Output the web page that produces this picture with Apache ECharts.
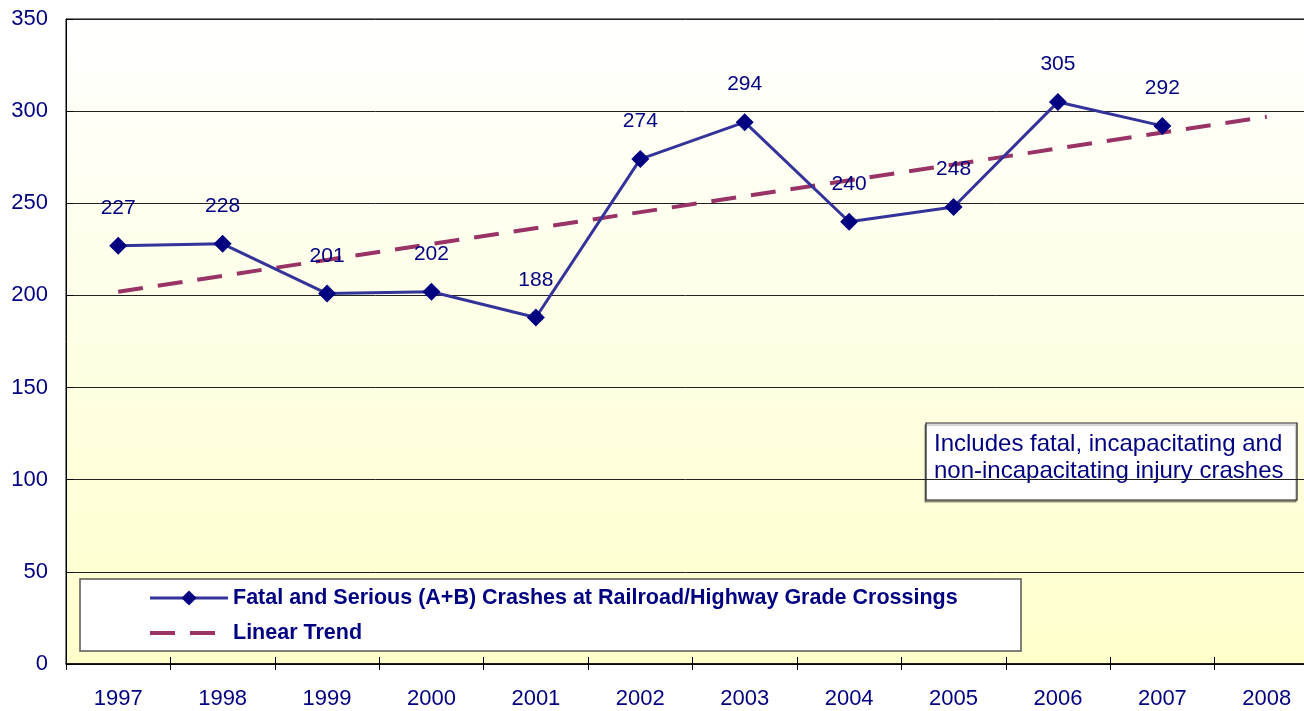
<!DOCTYPE html>
<html>
<head>
<meta charset="utf-8">
<title>Fatal and Serious Crashes at Railroad/Highway Grade Crossings</title>
<script src="https://cdn.jsdelivr.net/npm/echarts@6/dist/echarts.min.js"></script>
<style>
  html, body { margin: 0; padding: 0; background: #fff; }
  #chart { width: 1304px; height: 711px; }
</style>
</head>
<body>
<div id="chart"></div>
<script>
// Years on the category axis
const years = ['1997', '1998', '1999', '2000', '2001', '2002', '2003', '2004', '2005', '2006', '2007', '2008'];
// Fatal and serious (A+B) crashes per year (no value yet for 2008)
const crashes = [227, 228, 201, 202, 188, 274, 294, 240, 248, 305, 292, null];
// Linear trend end points (1997 and 2008)
const trend = [202, null, null, null, null, null, null, null, null, null, null, 297];
// Value axis ticks
const yTicks = [0, 50, 100, 150, 200, 250, 300, 350];

const navy = '#000080';
const font = 'Arial, "Liberation Sans", sans-serif';
const seriesName = 'Fatal and Serious (A+B) Crashes at Railroad/Highway Grade Crossings';

const chart = echarts.init(document.getElementById('chart'), null, { renderer: 'canvas' });

chart.setOption({
  animation: false,
  backgroundColor: '#ffffff',
  grid: {
    left: 66,
    top: 19,
    width: 1253,
    bottom: 47,
    outerBoundsMode: 'none',
    containLabel: false,
    show: true,
    borderColor: '#000',
    borderWidth: 1,
    backgroundColor: new echarts.graphic.LinearGradient(0, 0, 0, 1, [
      { offset: 0, color: '#ffffff' },
      { offset: 1, color: '#ffffcc' }
    ])
  },
  xAxis: [{
    type: 'category',
    data: years,
    boundaryGap: true,
    axisLine: { lineStyle: { color: '#000', width: 1.5 } },
    axisTick: { show: true, length: 6, lineStyle: { color: '#000' } },
    axisLabel: { color: navy, fontFamily: font, fontSize: 22, margin: 24 }
  }, {
    type: 'category',
    data: years,
    boundaryGap: true,
    position: 'bottom',
    axisLine: { show: false },
    axisTick: { show: true, inside: true, length: 7, lineStyle: { color: '#000' } },
    axisLabel: { show: false }
  }],
  yAxis: {
    type: 'value',
    min: yTicks[0],
    max: yTicks[yTicks.length - 1],
    interval: 50,
    axisLine: { show: true, lineStyle: { color: '#000' } },
    axisTick: { show: true, inside: true, length: 7, lineStyle: { color: '#000' } },
    splitLine: { show: true, lineStyle: { color: '#222', width: 1 } },
    axisLabel: { color: navy, fontFamily: font, fontSize: 22, margin: 18 }
  },
  legend: {
    orient: 'vertical',
    left: 148,
    top: 586,
    padding: 0,
    itemWidth: 78,
    itemHeight: 19,
    itemGap: 11,
    textStyle: { color: navy, fontFamily: font, fontSize: 21.5, fontWeight: 'bold', lineHeight: 24 },
    data: [
      { name: seriesName, lineStyle: { width: 3 } },
      { name: 'Linear Trend', lineStyle: { width: 4 }, itemStyle: { opacity: 0 } }
    ]
  },
  series: [{
    name: 'Linear Trend',
    type: 'line',
    data: trend,
    connectNulls: true,
    symbol: 'none',
    z: 2,
    lineStyle: { color: '#993366', width: 4, type: [25, 15] },
    itemStyle: { color: '#993366' }
  }, {
    name: seriesName,
    type: 'line',
    data: crashes,
    symbol: 'diamond',
    symbolSize: 18,
    z: 3,
    lineStyle: { color: '#333399', width: 3 },
    itemStyle: { color: navy },
    label: {
      show: true,
      position: 'top',
      distance: 18,
      color: navy,
      fontFamily: font,
      fontSize: 21
    }
  }],
  graphic: [{
    type: 'rect',
    z: 0,
    shape: { x: 80, y: 579, width: 941, height: 72 },
    style: { fill: '#ffffff', stroke: '#555', lineWidth: 1.5 }
  }, {
    type: 'group',
    z: 10,
    children: [{
      type: 'rect',
      shape: { x: 926, y: 423, width: 371, height: 77 },
      style: { fill: '#ffffff', stroke: '#222', lineWidth: 1.2, shadowColor: 'rgba(0,0,0,0.35)', shadowOffsetX: -1, shadowOffsetY: 2, shadowBlur: 1 }
    }, {
      type: 'text',
      left: 934,
      top: 431,
      style: {
        text: 'Includes fatal, incapacitating and\nnon-incapacitating injury crashes',
        fill: navy,
        font: '24px ' + font,
        lineHeight: 27
      }
    }]
  }]
});
</script>
</body>
</html>
